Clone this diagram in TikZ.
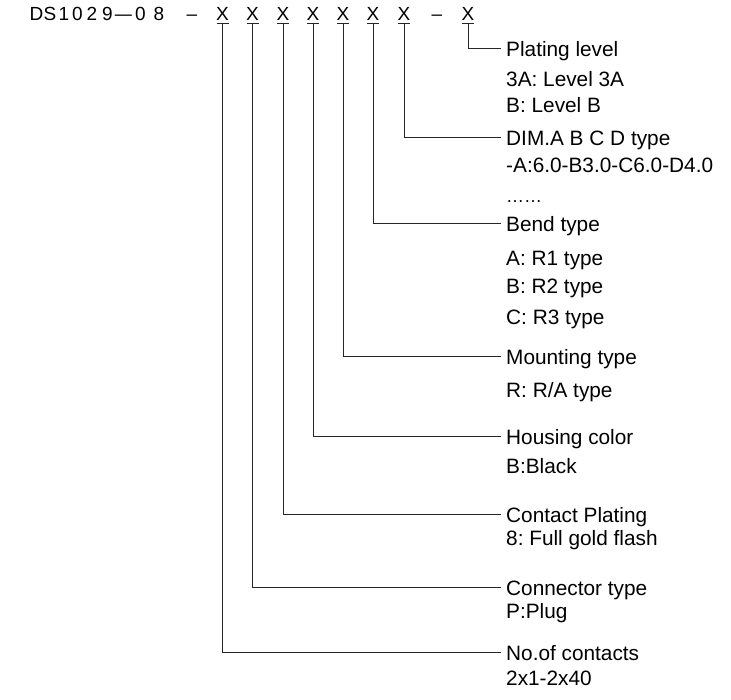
\documentclass[tikz,border=0pt]{standalone}
\usepackage{fontspec}
\setmainfont{Liberation Sans}
\frenchspacing
\begin{document}
\begin{tikzpicture}[x=1pt,y=-1pt,
  cad/.style={anchor=base, inner sep=0pt, font=\fontsize{19}{22}\selectfont},
  xch/.style={cad, text height=14pt, text depth=3pt},
  ttl/.style={anchor=west, inner xsep=5pt, inner ysep=0pt, text height=17pt, text depth=0pt, font=\fontsize{20.8}{24}\selectfont},
  sub/.style={anchor=base west, inner sep=0pt, font=\fontsize{20.8}{24}\selectfont},
  lead/.style={line width=0.9pt, black!85}]
\useasboundingbox (0,0) rectangle (731,699);
% part number prefix
\foreach \x/\c in {36.5/D,50/S,64/1,77.5/0,92/2,107.5/9,123.5/{\scalebox{0.9}[1]{---}},140.5/0,159/8,192/{--},437/{--}}
  \node[cad] at (\x,20) {\c};
% X positions
\node[xch] (x1) at (222.5,20) {X};
\node[xch] (x2) at (252.5,20) {X};
\node[xch] (x3) at (283,20) {X};
\node[xch] (x4) at (313,20) {X};
\node[xch] (x5) at (343,20) {X};
\node[xch] (x6) at (373,20) {X};
\node[xch] (x7) at (404,20) {X};
\node[xch] (x8) at (468,20) {X};
\foreach \i in {1,...,8}
  \draw[lead] ([xshift=-6pt]x\i.south) -- ([xshift=6pt]x\i.south);
% titles
\node[ttl] (t8) at (501,48) {Plating level};
\node[ttl] (t7) at (501,137) {DIM.A B C D type};
\node[ttl] (t6) at (501,223) {Bend type};
\node[ttl] (t5) at (501,356) {Mounting type};
\node[ttl] (t4) at (501,436) {Housing color};
\node[ttl] (t3) at (501,514) {Contact Plating};
\node[ttl] (t2) at (501,587) {Connector type};
\node[ttl] (t1) at (501,652) {No.of contacts};
% sub lines
\node[sub] at (506,86) {3A: Level 3A};
\node[sub] at (506,112) {B: Level B};
\node[sub] at (506,172) {-A:6.0-B3.0-C6.0-D4.0};
\node[sub] at (506,202) {\fontsize{18}{20}\selectfont ……};
\node[sub] at (506,265) {A: R1 type};
\node[sub] at (506,293) {B: R2 type};
\node[sub] at (506,324) {C: R3 type};
\node[sub] at (506,397) {R: R/A type};
\node[sub] at (506,473) {B:Black};
\node[sub] at (506,545) {8: Full gold flash};
\node[sub] at (506,618) {P:Plug};
\node[sub] at (506,685) {2x1-2x40};
% leaders
\foreach \i in {1,...,8}
  \draw[lead] (x\i.south) |- (t\i.west);
\end{tikzpicture}
\end{document}
